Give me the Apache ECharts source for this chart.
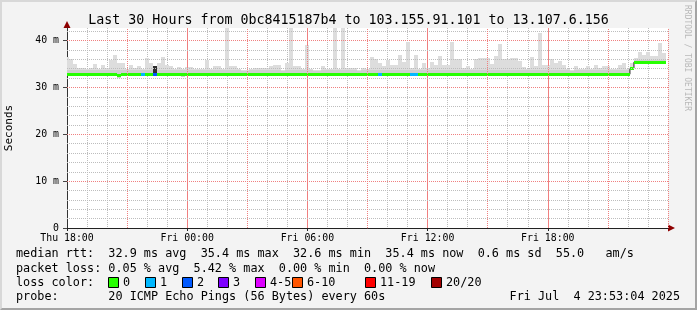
<!DOCTYPE html>
<html><head><meta charset="utf-8">
<script src="https://cdn.jsdelivr.net/npm/echarts@6/dist/echarts.min.js"></script>
<style>
html,body{margin:0;padding:0;background:#f3f3f3}
#wrap{position:relative;width:697px;height:310px}
#c{width:697px;height:310px}
#f{position:absolute;left:0;top:0;width:697px;height:310px;box-sizing:border-box;pointer-events:none;border-top:2px solid #d8d8d8;border-left:2px solid #d8d8d8;border-right:2px solid #a4a4a4;border-bottom:2px solid #a4a4a4}
</style>
</head><body><div id="wrap"><div id="c"></div><div id="f"></div></div>
<script>
// ---- data (one bin = 12 minutes, bin centre in hours after Thu 18:00) ----
const BIN = 0.2;
const xTickLabels = ['Thu 18:00','Fri 00:00','Fri 06:00','Fri 12:00','Fri 18:00',''];
const xMajorGrid = [3, 6, 9, 12, 15, 18, 21, 24, 27, 30];
const yMajorGrid = [10, 20, 30, 40];
const yMinorGrid = [2, 4, 6, 8, 12, 14, 16, 18, 22, 24, 26, 28, 32, 34, 36, 38, 42];
const smokeTop = [
36.5,36.0,34.9,34.1,34.1,34.0,34.1,35.0,34.0,34.8,
34.1,35.8,36.9,35.3,35.1,34.0,34.8,34.2,34.6,34.0,
36.3,35.1,34.6,35.3,36.5,34.8,34.6,34.0,34.4,33.9,
34.3,34.3,33.9,33.9,33.9,35.8,33.9,34.6,34.6,33.9,
43.0,34.6,34.6,34.0,33.8,33.8,34.0,34.2,34.2,34.2,
34.2,34.6,34.8,34.7,33.8,35.1,43.0,34.6,34.6,33.9,
39.0,34.0,33.8,33.8,34.6,34.0,34.0,43.0,34.0,43.0,
34.2,34.2,34.2,33.8,34.1,33.9,36.5,36.0,35.1,34.6,
35.8,34.8,34.8,36.9,35.5,39.7,34.2,36.9,33.9,35.1,
34.2,35.5,34.8,36.7,34.8,34.8,39.7,36.0,36.0,34.2,
34.6,33.9,36.0,36.3,36.3,36.3,35.0,36.7,39.3,36.1,
36.1,36.3,36.3,35.6,34.4,33.9,36.5,34.6,41.5,34.7,
34.7,36.0,35.3,35.6,34.7,33.9,33.8,34.6,33.9,33.9,
34.6,33.9,34.8,34.2,34.6,34.6,33.9,33.9,34.8,35.1,
33.9,35.1,36.2,37.5,37.0,37.5,36.7,36.8,39.4,37.3];
const smokeInner = [
33.8,33.8,33.8,33.8,33.8,33.8,33.8,33.8,33.8,33.8,
33.8,33.8,33.8,33.8,33.8,33.8,33.8,33.8,33.8,33.8,
33.8,33.8,33.8,33.8,33.8,33.8,33.8,33.8,33.8,33.7,
33.8,33.8,33.7,33.7,33.7,33.8,33.7,33.8,33.8,33.7,
33.8,33.8,33.8,33.8,33.6,33.6,33.8,33.8,33.8,33.8,
33.8,33.8,33.8,33.8,33.6,33.8,33.8,33.8,33.8,33.7,
33.8,33.8,33.6,33.6,33.8,33.8,33.8,33.8,33.8,33.8,
33.8,33.8,33.8,33.6,33.8,33.7,33.8,33.8,33.8,33.8,
33.8,33.8,33.8,33.8,33.8,33.8,33.8,33.8,33.7,33.8,
33.8,33.8,33.8,33.8,33.8,33.8,33.8,33.8,33.8,33.8,
33.8,33.7,33.8,33.8,33.8,33.8,33.8,33.8,33.8,33.8,
33.8,33.8,33.8,33.8,33.8,33.7,33.8,33.8,33.8,33.8,
33.8,33.8,33.8,33.8,33.8,33.7,33.6,33.8,33.7,33.7,
33.8,33.7,33.8,33.8,33.8,33.8,33.7,33.7,33.8,33.8,
33.7,34.4,35.9,35.9,35.9,35.9,35.9,35.9,35.9,35.9];
const smokeMin = [
32.6,32.6,32.6,32.6,32.6,32.6,32.6,32.6,32.6,32.6,
32.6,32.6,32.6,32.1,32.6,32.6,32.6,32.6,32.6,32.6,
32.6,32.6,32.6,32.6,32.6,32.6,32.6,32.6,32.6,32.3,
32.6,32.6,32.6,32.6,32.6,32.6,32.6,32.6,32.6,32.6,
32.6,32.6,32.6,32.6,32.6,32.6,32.6,32.6,32.6,32.6,
32.6,32.6,32.6,32.6,32.6,32.6,32.6,32.6,32.6,32.6,
32.6,32.6,32.6,32.6,32.6,32.6,32.6,32.6,32.6,32.6,
32.6,32.6,32.6,32.6,32.6,32.6,32.6,32.6,32.6,32.6,
32.6,32.6,32.6,32.6,32.6,32.6,32.6,32.6,32.6,32.6,
32.6,32.6,32.6,32.6,32.6,32.6,32.6,32.6,32.6,32.6,
32.6,32.6,32.6,32.6,32.6,32.6,32.6,32.6,32.6,32.6,
32.6,32.6,32.6,32.6,32.6,32.6,32.6,32.6,32.6,32.6,
32.6,32.6,32.6,32.6,32.6,32.6,32.6,32.6,32.6,32.6,
32.6,32.6,32.6,32.6,32.6,32.6,32.6,32.6,32.6,32.6,
32.6,33.7,35.0,35.0,35.0,35.0,35.0,35.0,35.0,35.0];
const median = [
32.8,32.8,32.8,32.8,32.8,32.8,32.8,32.8,32.8,32.8,
32.8,32.8,32.8,32.5,32.8,32.8,32.8,32.8,32.8,32.8,
32.8,32.8,32.8,32.8,32.8,32.8,32.8,32.8,32.8,32.8,
32.8,32.8,32.8,32.8,32.8,32.8,32.8,32.8,32.8,32.8,
32.8,32.8,32.8,32.8,32.8,32.8,32.8,32.8,32.8,32.8,
32.8,32.8,32.8,32.8,32.8,32.8,32.8,32.8,32.8,32.8,
32.8,32.8,32.8,32.8,32.8,32.8,32.8,32.8,32.8,32.8,
32.8,32.8,32.8,32.8,32.8,32.8,32.8,32.8,32.8,32.8,
32.8,32.8,32.8,32.8,32.8,32.8,32.8,32.8,32.8,32.8,
32.8,32.8,32.8,32.8,32.8,32.8,32.8,32.8,32.8,32.8,
32.8,32.8,32.8,32.8,32.8,32.8,32.8,32.8,32.8,32.8,
32.8,32.8,32.8,32.8,32.8,32.8,32.8,32.8,32.8,32.8,
32.8,32.8,32.8,32.8,32.8,32.8,32.8,32.8,32.8,32.8,
32.8,32.8,32.8,32.8,32.8,32.8,32.8,32.8,32.8,32.8,
32.8,34.1,35.4,35.3,35.4,35.4,35.4,35.4,35.4,35.3];
const loss = [
0,0,0,0,0,0,0,0,0,0, 0,0,0,0,0,0,0,0,0,1,
0,0,2,0,0,0,0,0,0,0, 0,0,0,0,0,0,0,0,0,0,
0,0,0,0,0,0,0,0,0,0, 0,0,0,0,0,0,0,0,0,0,
0,0,0,0,0,0,0,0,0,0, 0,0,0,0,0,0,0,0,1,0,
0,0,0,0,0,0,1,1,0,0, 0,0,0,0,0,0,0,0,0,0,
0,0,0,0,0,0,0,0,0,0, 0,0,0,0,0,0,0,0,0,0,
0,0,0,0,0,0,0,0,0,0, 0,0,0,0,0,0,0,0,0,0,
0,0,0,0,0,0,0,0,0,0];
const lossLabels = ['0','1','2','3','4-5','6-10','11-19','20/20'];
const lossColors = ['#26ff00','#00b8ff','#0059ff','#7e00ff','#dd00ff','#ff5500','#ff0000','#a10000'];
const statLines = [
 'median rtt:  32.9 ms avg  35.4 ms max  32.6 ms min  35.4 ms now  0.6 ms sd  55.0   am/s',
 'packet loss: 0.05 % avg  5.42 % max  0.00 % min  0.00 % now',
 'loss color:',
 'probe:       20 ICMP Echo Pings (56 Bytes) every 60s'];
const stampText = 'Fri Jul  4 23:53:04 2025';
const titleText = 'Last 30 Hours from 0bc8415187b4 to 103.155.91.101 to 13.107.6.156';

// ---- build ----
const MONO = '"DejaVu Sans Mono", "Liberation Mono", monospace';
const FONT = '11.8px ' + MONO;
const smokeData = smokeTop.map((t, i) => [i * BIN, smokeMin[i], smokeInner[i], t, loss[i]]);
const bandData = median.map((m, i) => [i * BIN, m, loss[i]]);
const lineData = median.map((m, i) => [i * BIN, m]);

const RED = '#f08080', GRAY = '#bdbdbd';
const DASH = [1, 1];
const G = {left: 67, top: 28, width: 601, height: 200};
const X_MAX = 30, Y_MAX = 42.67;

function binX(api, h) {
  const x0 = Math.round(api.coord([Math.max(0, h - BIN / 2), 0])[0]);
  const x1 = Math.round(api.coord([h + BIN / 2, 0])[0]);
  return [x0, x1];
}

const graphics = [];
graphics.push({type:'rect', z: -10, silent: true, shape:{x:G.left, y:G.top, width:G.width, height:G.height}, style:{fill:'#ffffff'}});
graphics.push({type:'text', left: 683, top: 5, rotation: -Math.PI/2, originX: 0, originY: 0,
  style:{text:'RRDTOOL / TOBI OETIKER', font:'8px ' + MONO, fill:'#b8b8b8'}, silent:true});
const ys = [254, 268.5, 282.5, 297];
statLines.forEach((s, k) => graphics.push({type:'text', x:16, y:ys[k],
  style:{text:s, font:FONT, fill:'#000', textVerticalAlign:'middle'}}));
graphics.push({type:'text', x:680, y:ys[3], style:{text:stampText, font:FONT, fill:'#000', textAlign:'right', textVerticalAlign:'middle'}});
const boxX = [108, 145, 182, 218, 255, 292, 365, 431];
lossLabels.forEach((lab, k) => {
  graphics.push({type:'rect', shape:{x:boxX[k] + 0.5, y:277.5, width:10, height:10}, style:{fill:lossColors[k], stroke:'#000', lineWidth:1}});
  graphics.push({type:'text', x:boxX[k] + 15, y:ys[2], style:{text:lab, font:FONT, fill:'#000', textVerticalAlign:'middle'}});
});
// axis arrows
graphics.push({type:'polygon', shape:{points:[[668,224.5],[675,228],[668,231.5]]}, style:{fill:'#8e0000'}});
graphics.push({type:'polygon', shape:{points:[[63.5,28],[67,21],[70.5,28]]}, style:{fill:'#8e0000'}});

const chart = echarts.init(document.getElementById('c'), null, {renderer:'canvas'});
chart.setOption({
  backgroundColor: '#f3f3f3',
  animation: false,
  title: {text: titleText, left: 'center', top: 9,
    textStyle: {fontFamily: MONO, fontSize: 13.3, fontWeight: 'normal', color: '#000'}},
  grid: {left: G.left, top: G.top, width: G.width, height: G.height, containLabel: false, outerBoundsMode: 'none', show: false},
  xAxis: {
    type: 'value', min: 0, max: X_MAX, interval: 3,
    axisLine: {show: true, lineStyle: {color: '#222', width: 1}},
    axisTick: {show: true, length: 3, customValues: [0, 6, 12, 18, 24], lineStyle: {color: '#222'}},
    minorTick: {show: false, splitNumber: 3},
    axisLabel: {customValues: [0, 6, 12, 18, 24], formatter: v => xTickLabels[Math.round(v / 6)] || '',
      fontFamily: MONO, fontSize: 9.9, color: '#000', margin: 5},
    splitLine: {show: true, lineStyle: {color: RED, type: DASH, width: 1}},
    minorSplitLine: {show: true, lineStyle: {color: GRAY, type: DASH, width: 1}}
  },
  yAxis: {
    type: 'value', min: 0, max: Y_MAX, interval: 10,
    name: 'Seconds', nameLocation: 'middle', nameGap: 52, nameRotate: 90,
    nameTextStyle: {fontFamily: MONO, fontSize: 11, color: '#000'},
    axisLine: {show: true, lineStyle: {color: '#333', width: 1}},
    axisTick: {show: true, length: 4, lineStyle: {color: '#444'}},
    axisLabel: {formatter: v => (v === 0 ? '0' : (v % 10 === 0 ? v + ' m' : '')),
      fontFamily: MONO, fontSize: 9.9, color: '#000', margin: 8, showMaxLabel: false},
    splitLine: {show: true, showMaxLine: false, lineStyle: {color: RED, type: DASH, width: 1}}
  },
  graphic: graphics,
  series: [
    {
      type: 'line', name: 'minor grid', data: [], z: 1, silent: true,
      markLine: {
        silent: true, symbol: ['none', 'none'], label: {show: false}, animation: false,
        lineStyle: {color: GRAY, type: DASH, width: 1},
        emphasis: {disabled: true},
        data: yMinorGrid.map(v => ({yAxis: v}))
      }
    },
    {
      type: 'line', name: 'major grid', data: [], z: 1, silent: true,
      markLine: {
        silent: true, symbol: ['none', 'none'], label: {show: false}, animation: false,
        lineStyle: {color: RED, type: DASH, width: 1},
        emphasis: {disabled: true},
        data: xMajorGrid.map(v => ({xAxis: v})).concat(yMajorGrid.map(v => ({yAxis: v})))
      }
    },
    {
      type: 'custom', name: 'smoke', clip: true, z: 2, silent: true,
      data: smokeData, encode: {x: 0, y: 3},
      renderItem: (params, api) => {
        const h = api.value(0);
        const [x0, x1] = binX(api, h);
        const yLo = Math.round(api.coord([h, api.value(1)])[1]);
        const yIn = Math.round(api.coord([h, api.value(2)])[1]);
        const yHi = Math.round(api.coord([h, api.value(3)])[1]);
        const dark = api.value(4) >= 2;
        return {type: 'group', children: [
          {type: 'rect', shape: {x: x0, y: yHi, width: x1 - x0, height: yLo - yHi}, style: {fill: dark ? '#2e2e2e' : '#dddddd'}},
          {type: 'rect', shape: {x: x0, y: yIn, width: x1 - x0, height: yLo - yIn}, style: {fill: dark ? '#2e2e2e' : '#cfcfcf'}}
        ]};
      }
    },
    {
      type: 'line', name: 'median', step: 'middle', data: lineData, symbol: 'none', z: 3, silent: true,
      lineStyle: {color: '#202020', width: 1}
    },
    {
      type: 'custom', name: 'loss', z: 4, silent: true, clip: true,
      data: bandData, encode: {x: 0, y: 1},
      renderItem: (params, api) => {
        const h = api.value(0);
        const [x0, x1] = binX(api, h);
        const yc = api.coord([h, api.value(1)])[1];
        const y0 = Math.round(yc - 1.5);
        return {type: 'rect', shape: {x: x0, y: y0, width: x1 - x0, height: 3}, style: {fill: lossColors[api.value(2)]}};
      }
    }
  ]
});
</script>
</body></html>
